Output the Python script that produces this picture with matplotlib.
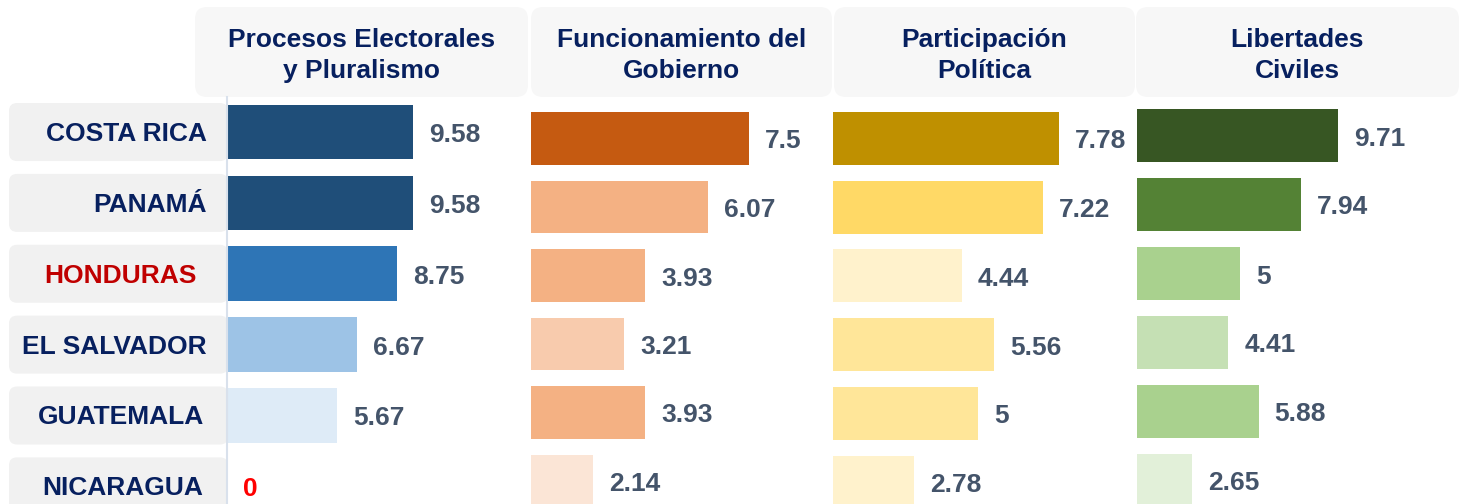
import matplotlib
matplotlib.use("Agg")
import matplotlib.pyplot as plt
from matplotlib.patches import FancyBboxPatch

plt.rcParams['font.family'] = ['Liberation Sans', 'DejaVu Sans']

# ---------------- data ----------------
countries = ["COSTA RICA", "PANAMÁ", "HONDURAS", "EL SALVADOR", "GUATEMALA", "NICARAGUA"]
categories = ["Procesos Electorales\ny Pluralismo", "Funcionamiento del\nGobierno",
              "Participación\nPolítica", "Libertades\nCiviles"]
procesos = [9.58, 9.58, 8.75, 6.67, 5.67, 0]
funcionamiento = [7.5, 6.07, 3.93, 3.21, 3.93, 2.14]
participacion = [7.78, 7.22, 4.44, 5.56, 5, 2.78]
libertades = [9.71, 7.94, 5, 4.41, 5.88, 2.65]

colors_procesos = ["#1f4e79", "#1f4e79", "#2e75b6", "#9dc3e6", "#deebf7", "#deebf7"]
colors_funcionamiento = ["#c55a11", "#f4b183", "#f4b183", "#f8cbad", "#f4b183", "#fbe5d6"]
colors_participacion = ["#bf9000", "#ffd966", "#fff2cc", "#ffe699", "#ffe699", "#fff2cc"]
colors_libertades = ["#375623", "#548235", "#a9d18e", "#c5e0b4", "#a9d18e", "#e2f0d9"]

series = [procesos, funcionamiento, participacion, libertades]
series_colors = [colors_procesos, colors_funcionamiento, colors_participacion, colors_libertades]

# ---------------- layout (pixels) ----------------
W, H = 1463, 504
fig = plt.figure(figsize=(W / 100, H / 100), dpi=100)
fig.patch.set_facecolor("white")

NAVY = "#07205f"
VALUE = "#44546a"
FS = 19

bg = fig.add_axes([0, 0, 1, 1], zorder=0)
bg.set_xlim(0, W)
bg.set_ylim(H, 0)
bg.axis("off")

# panel geometry: x0, x1, top, bottom, xmax
panels = [
    (227, 528, 96.6, 521.8, 15.5),
    (531, 832, 104.25, 515.25, 10.35),
    (833, 1135, 104.15, 516.35, 10.4),
    (1137, 1459, 101.0, 515.0, 15.57),
]
header_boxes = [(195, 528), (531, 832), (834, 1135), (1136, 1459)]

# header boxes
for (hx0, hx1), cat in zip(header_boxes, categories):
    bg.add_patch(FancyBboxPatch((hx0 + 12, 7 + 12), hx1 - hx0 - 24, 90 - 24,
                                boxstyle="round,pad=12", fc="#f7f7f7", ec="none"))
    bg.text((hx0 + hx1) / 2, 55.5, cat, ha="center", va="center", fontsize=FS,
            fontweight="bold", color=NAVY, linespacing=1.38)

# row label boxes aligned with panel 1 rows
p1 = panels[0]
sp1 = (p1[3] - p1[2]) / len(countries)
label_right = {"HONDURAS": 197, "GUATEMALA": 204, "NICARAGUA": 203}
for i, c in enumerate(countries):
    cy = p1[2] + sp1 * (i + 0.5)
    bg.add_patch(FancyBboxPatch((9 + 8, cy - 29 + 8), 219 - 16, 58 - 16,
                                boxstyle="round,pad=8", fc="#f1f1f1", ec="none"))
    bg.text(label_right.get(c, 207), cy + 2, c, ha="right", va="center", fontsize=FS,
            fontweight="bold", color="#c00000" if c == "HONDURAS" else NAVY)

# panels
for k, ((x0, x1, top, bottom, xmax), vals, cols) in enumerate(zip(panels, series, series_colors)):
    ax = fig.add_axes([x0 / W, 1 - bottom / H, (x1 - x0) / W, (bottom - top) / H], zorder=2)
    ax.patch.set_alpha(0)
    y = list(range(len(countries)))
    ax.barh(y, vals, height=0.77, color=cols, edgecolor="none")
    ax.set_xlim(0, xmax)
    ax.set_ylim(len(countries) - 0.5, -0.5)
    ax.set_xticks([])
    ax.set_yticks([])
    for s in ax.spines.values():
        s.set_visible(False)
    if k == 0:
        ax.spines["left"].set_visible(True)
        ax.spines["left"].set_color("#d9e1ec")
        ax.spines["left"].set_linewidth(1.5)
    for yi, v in zip(y, vals):
        ax.annotate(f"{v:g}", (v, yi), xytext=(16, -3), textcoords="offset pixels",
                    ha="left", va="center", fontsize=FS, fontweight="bold",
                    color="#ff0000" if v == 0 else VALUE, annotation_clip=False)

fig.savefig("out.png", dpi=100)
